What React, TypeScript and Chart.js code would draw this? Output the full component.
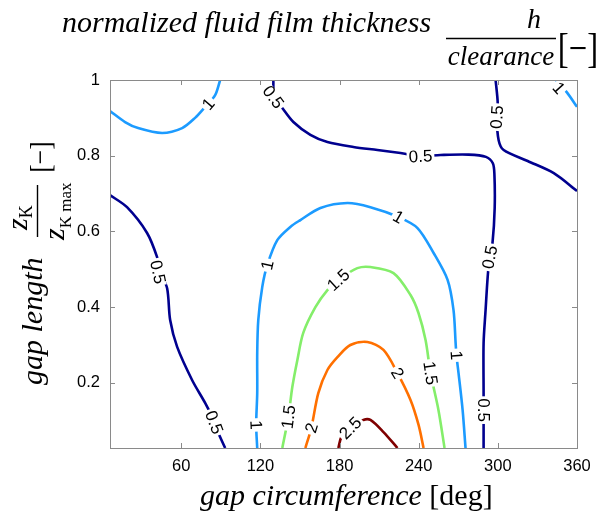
import React, { useEffect, useRef } from 'react';
import { Chart, registerables } from 'chart.js';
Chart.register(...registerables);

// ---- axes ----
const xTicks = [60, 120, 180, 240, 300, 360];
const yTicks = [0.2, 0.4, 0.6, 0.8, 1];
const xMin = 6, xMax = 360, yMin = 0.028, yMax = 1;

// ---- contour levels ----
const levels = [0.5, 1, 1.5, 2, 2.5];
const levelColors = ['#00008f', '#1c9bff', '#84ee6a', '#ff7000', '#7f0000'];

// ---- contour lines (gap circumference [deg], gap length [-]) ----
const c05Left = [[6, 0.696], [18.9, 0.664], [34.1, 0.596], [41.7, 0.532], [44, 0.493], [49.3, 0.45], [51.6, 0.366], [56.9, 0.295], [68.3, 0.207], [78.1, 0.147], [83.4, 0.11], [87.2, 0.075], [93.3, 0.028]];
const c05Mid = [[129.8, 1.0], [130.5, 0.955], [136.6, 0.926], [145, 0.889], [157.9, 0.855], [170.8, 0.836], [190.5, 0.823], [208.7, 0.815], [226.2, 0.807], [241.4, 0.799], [256.6, 0.802], [277.8, 0.803], [291, 0.797], [296.2, 0.78], [297.4, 0.75], [297.6, 0.662], [296, 0.572], [293.8, 0.532], [292.3, 0.48], [290.7, 0.392], [289.2, 0.305], [289.2, 0.173], [289.2, 0.128], [289.2, 0.067], [289.2, 0.028]];
const c05TopRight = [[298.3, 1.0], [299.9, 0.939], [299.1, 0.902], [300.6, 0.841], [304.4, 0.815], [322.6, 0.786], [342.4, 0.754], [360, 0.707]];
const c10TopLeft = [[6, 0.918], [17.4, 0.889], [27.3, 0.873], [45.5, 0.86], [60.7, 0.873], [70.5, 0.9], [78.1, 0.929], [85.7, 0.96], [89.5, 1.0]];
const c10TopRight = [[343.9, 1.0], [352.2, 0.968], [360, 0.929]];
const c10Arch = [[117.6, 0.028], [116.8, 0.089], [117.6, 0.173], [117.6, 0.279], [118.4, 0.366], [121.4, 0.453], [125.2, 0.511], [132.8, 0.577], [142.7, 0.612], [150.3, 0.63], [165.5, 0.662], [186, 0.675], [203.4, 0.664], [224.7, 0.638], [239.1, 0.609], [251.3, 0.543], [261.9, 0.472], [266.4, 0.392], [268, 0.305], [268.6, 0.273], [270.2, 0.226], [273.3, 0.128], [275.5, 0.028]];
const c15Arch = [[136.6, 0.028], [141.2, 0.11], [144.2, 0.189], [148, 0.26], [152.5, 0.332], [161.7, 0.4], [170.8, 0.445], [179.1, 0.472], [193.5, 0.503], [203.4, 0.506], [220.9, 0.49], [233.8, 0.432], [239.9, 0.384], [245.2, 0.313], [249, 0.226], [255, 0.128], [259.6, 0.028]];
const c20Arch = [[154.1, 0.028], [158.6, 0.081], [163.9, 0.173], [170.8, 0.234], [178.4, 0.268], [188.2, 0.3], [201.1, 0.308], [213.3, 0.287], [223.9, 0.226], [233.8, 0.155], [239.9, 0.089], [243.7, 0.028]];
const c25Arch = [[179.1, 0.028], [181.4, 0.057], [188.2, 0.081], [198.1, 0.102], [203.4, 0.102], [213.3, 0.07], [223.9, 0.028]];

// contour line -> level index
const contourLines = [
  { pts: c05Left, level: 0 },
  { pts: c05Mid, level: 0 },
  { pts: c05TopRight, level: 0 },
  { pts: c10TopLeft, level: 1 },
  { pts: c10TopRight, level: 1 },
  { pts: c10Arch, level: 1 },
  { pts: c15Arch, level: 2 },
  { pts: c20Arch, level: 3 },
  { pts: c25Arch, level: 4 },
];

// inline contour labels: [line index, x, y]
const contourLabels = [
  [0, 42.4, 0.493], [0, 85.0, 0.096],
  [1, 129.8, 0.955], [1, 241.4, 0.799], [1, 293.8, 0.532], [1, 289.2, 0.128],
  [2, 299.1, 0.902],
  [3, 80.4, 0.937],
  [4, 346.2, 0.979],
  [5, 116.8, 0.089], [5, 125.2, 0.511], [5, 224.7, 0.638], [5, 268.6, 0.273],
  [6, 141.2, 0.11], [6, 179.1, 0.472], [6, 249, 0.226],
  [7, 158.6, 0.081], [7, 223.9, 0.226],
  [8, 188.2, 0.081],
];

const SERIF = '"Liberation Serif", "Times New Roman", serif';
const SANS = '"Liberation Sans", Arial, sans-serif';

const framePlugin = {
  id: 'frame',
  afterDraw(chart: any) {
    const { ctx, chartArea: a, scales } = chart;
    ctx.save();
    ctx.strokeStyle = '#8a8a8a';
    ctx.lineWidth = 1;
    ctx.strokeRect(a.left + 0.5, a.top + 0.5, a.right - a.left, a.bottom - a.top);
    const tl = 5;
    ctx.beginPath();
    xTicks.forEach((v) => {
      const px = Math.round(scales.x.getPixelForValue(v)) + 0.5;
      ctx.moveTo(px, a.bottom); ctx.lineTo(px, a.bottom - tl);
      ctx.moveTo(px, a.top); ctx.lineTo(px, a.top + tl);
    });
    yTicks.forEach((v) => {
      const py = Math.round(scales.y.getPixelForValue(v)) + 0.5;
      ctx.moveTo(a.left, py); ctx.lineTo(a.left + tl, py);
      ctx.moveTo(a.right, py); ctx.lineTo(a.right - tl, py);
    });
    ctx.stroke();
    ctx.restore();
  },
};

const labelPlugin = {
  id: 'contourLabels',
  afterDatasetsDraw(chart: any) {
    const { ctx, scales } = chart;
    ctx.save();
    ctx.font = `17px ${SANS}`;
    contourLabels.forEach(([li, x, y]) => {
      const line = contourLines[li];
      const px = scales.x.getPixelForValue(x);
      const py = scales.y.getPixelForValue(y);
      const pp = line.pts.map(([a, b]) => [scales.x.getPixelForValue(a), scales.y.getPixelForValue(b)]);
      let best = 0, bd = Infinity;
      for (let i = 0; i < pp.length - 1; i++) {
        const mx = (pp[i][0] + pp[i + 1][0]) / 2, my = (pp[i][1] + pp[i + 1][1]) / 2;
        const d = (mx - px) ** 2 + (my - py) ** 2;
        if (d < bd) { bd = d; best = i; }
      }
      let ang = Math.atan2(pp[best + 1][1] - pp[best][1], pp[best + 1][0] - pp[best][0]);
      if (ang > Math.PI / 2) ang -= Math.PI;
      if (ang < -Math.PI / 2) ang += Math.PI;
      const text = String(levels[line.level]);
      const w = ctx.measureText(text).width;
      ctx.save();
      ctx.translate(px, py);
      ctx.rotate(ang);
      ctx.fillStyle = '#ffffff';
      ctx.fillRect(-w / 2 - 2, -6, w + 4, 12);
      ctx.fillStyle = '#000000';
      ctx.textAlign = 'center';
      ctx.textBaseline = 'middle';
      ctx.fillText(text, 0, 1);
      ctx.restore();
    });
    ctx.restore();
  },
};

const titlePlugin = {
  id: 'titles',
  afterDraw(chart: any) {
    const ctx = chart.ctx;
    ctx.save();
    ctx.fillStyle = '#000';
    ctx.strokeStyle = '#000';
    ctx.textBaseline = 'alphabetic';
    // ---- top title ----
    ctx.font = `italic 30px ${SERIF}`;
    ctx.textAlign = 'left';
    ctx.fillText('normalized fluid film thickness', 62, 32);
    ctx.textAlign = 'center';
    ctx.font = `italic 28px ${SERIF}`;
    ctx.fillText('h', 534, 28);
    ctx.lineWidth = 1.4;
    ctx.beginPath(); ctx.moveTo(446, 38.5); ctx.lineTo(556, 38.5); ctx.stroke();
    ctx.font = `italic 27px ${SERIF}`;
    ctx.fillText('clearance', 501, 65);
    ctx.save();
    ctx.translate(578, 62);
    ctx.scale(0.78, 1);
    ctx.font = `42px ${SERIF}`;
    ctx.fillText('[\u2212]', 0, 0);
    ctx.restore();

    // ---- x title ----
    ctx.textAlign = 'left';
    ctx.font = `italic 30px ${SERIF}`;
    const xt = 'gap circumference ';
    ctx.fillText(xt, 200, 505);
    const xw = ctx.measureText(xt).width;
    ctx.font = `30px ${SERIF}`;
    ctx.fillText('[deg]', 200 + xw, 505);

    // ---- y title (rotated) ----
    ctx.save();
    ctx.translate(0, 515);
    ctx.rotate(-Math.PI / 2);
    ctx.textAlign = 'left';
    ctx.font = `italic 30px ${SERIF}`;
    ctx.fillText('gap length', 130, 42);
    ctx.lineWidth = 1.4;
    ctx.beginPath(); ctx.moveTo(278, 37.5); ctx.lineTo(330, 37.5); ctx.stroke();
    ctx.font = `italic 30px ${SERIF}`;
    ctx.fillText('z', 285, 27);
    const zw = ctx.measureText('z').width;
    ctx.font = `18px ${SERIF}`;
    ctx.fillText('K', 285 + zw, 32);
    ctx.font = `italic 30px ${SERIF}`;
    ctx.fillText('z', 275, 64);
    ctx.font = `17px ${SERIF}`;
    ctx.fillText('K max', 275 + zw, 71);
    ctx.save();
    ctx.translate(358, 50);
    ctx.scale(0.85, 1);
    ctx.textAlign = 'center';
    ctx.font = `30px ${SERIF}`;
    ctx.fillText('[\u2212]', 0, 0);
    ctx.restore();
    ctx.restore();

    ctx.restore();
  },
};

export default function App() {
  const ref = useRef<HTMLCanvasElement | null>(null);
  useEffect(() => {
    if (!ref.current) return;
    const chart = new Chart(ref.current, {
      type: 'scatter',
      data: {
        datasets: contourLines.map((c) => ({
          data: c.pts.map(([x, y]) => ({ x, y })),
          showLine: true,
          borderColor: levelColors[c.level],
          backgroundColor: levelColors[c.level],
          borderWidth: 2.6,
          pointRadius: 0,
          tension: 0.3,
          fill: false,
        })),
      },
      options: {
        responsive: false,
        animation: false,
        layout: { padding: { left: 0, right: 27, top: 80, bottom: 0 } },
        plugins: { legend: { display: false }, tooltip: { enabled: false }, title: { display: false } },
        scales: {
          x: {
            type: 'linear', min: xMin, max: xMax,
            afterBuildTicks: (s: any) => { s.ticks = xTicks.map((v) => ({ value: v })); },
            afterFit: (s: any) => { s.height = 67; },
            grid: { display: false, drawTicks: false },
            border: { display: false },
            ticks: { color: '#000', font: { family: SANS, size: 16.5 }, padding: 9, maxRotation: 0, autoSkip: false, callback: (v: any) => String(v) },
          },
          y: {
            type: 'linear', min: yMin, max: yMax,
            afterBuildTicks: (s: any) => { s.ticks = yTicks.map((v) => ({ value: v })); },
            afterFit: (s: any) => { s.width = 110; },
            grid: { display: false, drawTicks: false },
            border: { display: false },
            ticks: { color: '#000', font: { family: SANS, size: 16.5 }, padding: 10, autoSkip: false, callback: (v: any) => String(v) },
          },
        },
      },
      plugins: [labelPlugin, framePlugin, titlePlugin],
    });
    return () => chart.destroy();
  }, []);
  return (
    <div style={{ position: 'fixed', left: 0, top: 0, width: 604, height: 515, background: '#fff' }}>
      <canvas ref={ref} width={604} height={515} style={{ display: 'block' }} />
    </div>
  );
}
